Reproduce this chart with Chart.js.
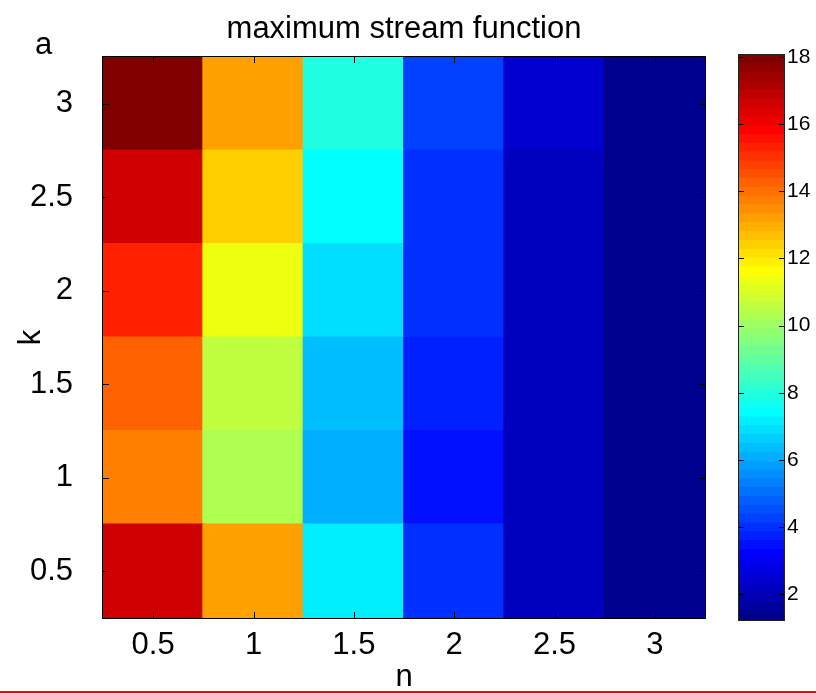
<!DOCTYPE html>
<html>
<head>
<meta charset="utf-8">
<script src="https://cdn.jsdelivr.net/npm/chart.js@4/dist/chart.umd.min.js"></script>
<style>
  html, body { margin:0; padding:0; background:#fff; }
  #wrap { position:relative; width:816px; height:693px; overflow:hidden; background:#fff; }
  #main { position:absolute; left:0; top:0; }
  #cbar { position:absolute; left:700px; top:0; }
  #panel { position:absolute; left:35px; top:28px; font-family:"Liberation Sans", Arial, sans-serif; font-size:31px; color:#000; line-height:1; }
  #redline { position:absolute; left:0; top:691px; width:816px; height:2px; background:#ff0000; }
</style>
</head>
<body>
<div id="wrap">
  <canvas id="main" width="816" height="693"></canvas>
  <canvas id="cbar" width="116" height="693"></canvas>
  <div id="panel">a</div>
  <div id="redline"></div>
</div>
<script>
// ---- data ----
const nValues = [0.5, 1, 1.5, 2, 2.5, 3];          // x categories
const kValues = [0.5, 1, 1.5, 2, 2.5, 3];          // y rows
const xTickLabels = ['0.5', '1', '1.5', '2', '2.5', '3'];
const yTickValues = [0.5, 1, 1.5, 2, 2.5, 3];
const cbTickValues = [2, 4, 6, 8, 10, 12, 14, 16, 18];
// maximum stream function values, one array per k row (across n)
const psiK05 = [16.6, 13.2, 7.1, 4.0, 2.1, 1.3];
const psiK10 = [13.7, 10.3, 6.1, 3.4, 2.1, 1.3];
const psiK15 = [14.3, 10.6, 6.3, 3.7, 2.1, 1.3];
const psiK20 = [15.3, 11.4, 6.9, 4.0, 2.1, 1.3];
const psiK25 = [16.6, 12.4, 7.4, 4.0, 2.1, 1.3];
const psiK30 = [18.06, 13.2, 7.9, 4.35, 2.4, 1.23];
const rows = [psiK05, psiK10, psiK15, psiK20, psiK25, psiK30];

const FONT = '"Liberation Sans", Arial, Helvetica, sans-serif';
const allVals = rows.flat();
const cMin = Math.min(...allVals);
const cMax = Math.max(...allVals);
const NLEV = 64;

// MATLAB jet(64)
function uAt(j) {
  if (j < 1 || j > 47) return 0;
  if (j <= 16) return j / 16;
  if (j <= 31) return 1;
  return (48 - j) / 16;
}
function jetColor(idx) { // idx 0..63
  const i = idx + 1;
  const r = Math.round(uAt(i - 24) * 255);
  const g = Math.round(uAt(i - 8) * 255);
  const b = Math.round(uAt(i + 8) * 255);
  return `rgb(${r},${g},${b})`;
}
function colorFor(v) {
  let idx = Math.floor((v - cMin) / (cMax - cMin) * NLEV);
  idx = Math.max(0, Math.min(NLEV - 1, idx));
  return jetColor(idx);
}

const dk = kValues[1] - kValues[0];
const datasets = kValues.map((k, r) => ({
  label: 'k=' + k,
  data: rows[r].map(() => [k - dk / 2, k + dk / 2]),
  backgroundColor: rows[r].map(colorFor),
  borderWidth: 0,
  inflateAmount: 1,
  borderSkipped: false,
  grouped: false,
  barPercentage: 1,
  categoryPercentage: 1
}));

const frameTicks = {
  id: 'frameTicks',
  afterDatasetsDraw(chart, args, opts) {
    const { ctx, chartArea: { left, right, top, bottom } } = chart;
    const L = opts.len || 6;
    ctx.save();
    ctx.strokeStyle = opts.color || '#000';
    ctx.lineWidth = 1;
    ctx.beginPath();
    const xs = chart.scales.x, ys = chart.scales.y;
    if (opts.xTicks && xs) {
      xs.ticks.forEach((t, i) => {
        const px = Math.round(xs.getPixelForTick(i)) + 0.5;
        ctx.moveTo(px, bottom); ctx.lineTo(px, bottom - L);
        ctx.moveTo(px, top); ctx.lineTo(px, top + L);
      });
    }
    if (ys) {
      ys.ticks.forEach((t) => {
        const py = Math.round(ys.getPixelForValue(t.value)) + 0.5;
        ctx.moveTo(left, py); ctx.lineTo(left + L, py);
        ctx.moveTo(right, py); ctx.lineTo(right - L, py);
      });
    }
    ctx.stroke();
    ctx.strokeStyle = opts.frameColor || '#000';
    ctx.strokeRect(Math.round(left) - 0.5, Math.round(top) - 0.5, Math.round(right - left) + 1, Math.round(bottom - top) + 1);
    ctx.restore();
  }
};

new Chart(document.getElementById('main'), {
  type: 'bar',
  data: { labels: xTickLabels, datasets },
  options: {
    responsive: false,
    animation: false,
    events: [],
    layout: { padding: { left: 0, top: 0, right: 111, bottom: 0 } },
    scales: {
      x: {
        type: 'category',
        offset: true,
        grid: { display: false, drawTicks: false },
        border: { display: false },
        ticks: { color: '#000', font: { family: FONT, size: 31 }, padding: 9, maxRotation: 0 },
        title: { display: true, text: 'n', color: '#000', font: { family: FONT, size: 31, lineHeight: 1 }, padding: { top: 0, bottom: 0 } },
        afterFit(s) { s.height = 75; }
      },
      y: {
        type: 'linear',
        min: kValues[0] - dk / 2,
        max: kValues[kValues.length - 1] + dk / 2,
        grid: { display: false, drawTicks: false },
        border: { display: false },
        afterBuildTicks(s) { s.ticks = yTickValues.map(v => ({ value: v })); },
        ticks: { color: '#000', font: { family: FONT, size: 31 }, padding: 30, callback: (v) => String(v) },
        title: { display: true, text: 'k', color: '#000', font: { family: FONT, size: 31 }, padding: { top: 13, bottom: 0 } },
        afterFit(s) { s.width = 103; }
      }
    },
    plugins: {
      legend: { display: false },
      tooltip: { enabled: false },
      title: {
        display: true, text: 'maximum stream function', color: '#000', fullSize: false,
        font: { family: FONT, size: 31, weight: 'normal' },
        padding: { top: 11, bottom: 8.8 }
      },
      frameTicks: { xTicks: true, len: 6 }
    }
  },
  plugins: [frameTicks]
});

// ---- colorbar ----
const levelEdges = Array.from({ length: NLEV }, (_, i) => [cMin + (cMax - cMin) * i / NLEV, cMin + (cMax - cMin) * (i + 1) / NLEV]);
const cbDatasets = levelEdges.map((e, i) => ({
  data: [e],
  backgroundColor: jetColor(i),
  borderWidth: 0,
  inflateAmount: 0.5,
  borderSkipped: false,
  grouped: false,
  barPercentage: 1,
  categoryPercentage: 1
}));

new Chart(document.getElementById('cbar'), {
  type: 'bar',
  data: { labels: [''], datasets: cbDatasets },
  options: {
    responsive: false,
    animation: false,
    events: [],
    layout: { padding: { left: 39, top: 55, right: 0, bottom: 73 } },
    scales: {
      x: { display: false, offset: true },
      y: {
        type: 'linear',
        position: 'right',
        min: cMin, max: cMax,
        grid: { display: false, drawTicks: false },
        border: { display: false },
        afterBuildTicks(s) { s.ticks = cbTickValues.map(v => ({ value: v })); },
        ticks: { color: '#000', font: { family: FONT, size: 21 }, padding: 3 },
        afterFit(s) { s.width = 32; }
      }
    },
    plugins: {
      legend: { display: false },
      tooltip: { enabled: false },
      frameTicks: { xTicks: false, len: 5, frameColor: '#222' }
    }
  },
  plugins: [frameTicks]
});
</script>
</body>
</html>
